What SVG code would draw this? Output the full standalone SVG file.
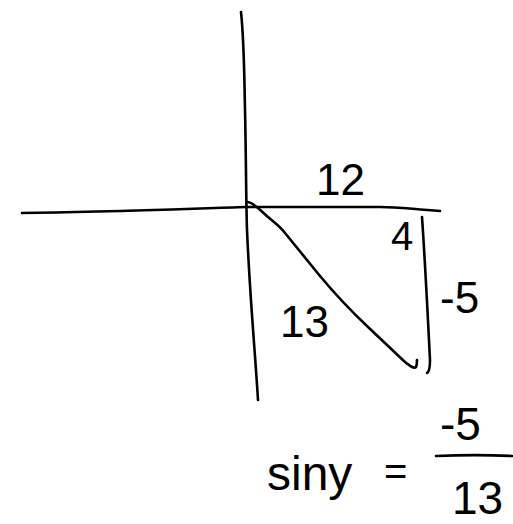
<svg xmlns="http://www.w3.org/2000/svg" width="513" height="524" viewBox="0 0 513 524">
<style>
.ln{fill:none;stroke:#000;stroke-width:2.6;stroke-linecap:round;stroke-linejoin:round}
.t{font-family:"Liberation Sans","DejaVu Sans",sans-serif;fill:#000;font-weight:normal}
</style>
<rect width="513" height="524" fill="#fff"/>
<g id="axes">
<path class="ln" d="M241,12 C244,40 244,60 245,110 C246,150 246,200 247,230 C250,300 255,350 258,400"/>
<path class="ln" d="M22,213 C100,212 180,209 246,207 L380,207 C400,207 410,209 440,211"/>
</g>
<g id="triangle">
<path class="ln" d="M247,202 C251,202 254,205 258,208 L268,217 C275,223 280,226 285,233 L320,276 C335,294 350,310 368,327 L405,362 C410,366 414,369 416,367 C417,365 417,363 417,360"/>
<path class="ln" d="M422,217 C425,260 428,320 430,360 C430,368 429,372 427,373"/>
</g>
<g id="labels">
<text class="t" x="316" y="195" font-size="44">12</text>
<text class="t" x="391" y="250" font-size="40">4</text>
<text class="t" x="280" y="337" font-size="44">13</text>
<text class="t" x="440" y="313" font-size="44">-5</text>
<text class="t" x="267" y="490" font-size="48">siny</text>
<text class="t" x="384" y="485" font-size="40">=</text>
<text class="t" x="440" y="440" font-size="46">-5</text>
<path class="ln" d="M436,456 C460,455 490,455 512,456"/>
<text class="t" x="452" y="514" font-size="46">13</text>
</g>
</svg>
